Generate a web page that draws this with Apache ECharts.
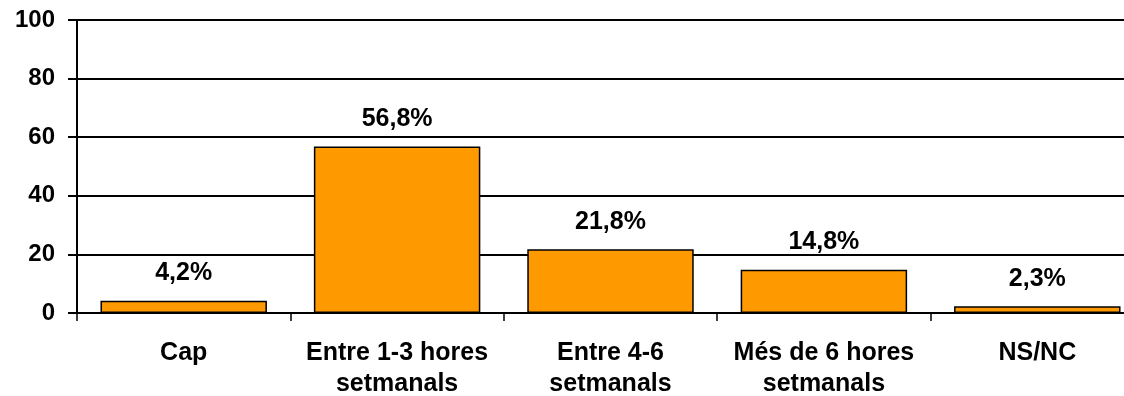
<!DOCTYPE html>
<html>
<head>
<meta charset="utf-8">
<script src="https://cdn.jsdelivr.net/npm/echarts@6/dist/echarts.min.js"></script>
<style>
html,body{margin:0;padding:0;background:#fff;overflow:hidden;width:1124px;height:396px;}
#chart{width:1144px;height:396px;}
</style>
</head>
<body>
<div id="chart"></div>
<script>
const categories = ['Cap', 'Entre 1-3 hores\nsetmanals', 'Entre 4-6\nsetmanals', 'Més de 6 hores\nsetmanals', 'NS/NC'];
const values = [4.2, 56.8, 21.8, 14.8, 2.3];
const yTicks = [0, 20, 40, 60, 80, 100];

const chart = echarts.init(document.getElementById('chart'), null, {renderer: 'canvas'});
const font = '"Liberation Sans", Arial, sans-serif';
chart.setOption({
  animation: false,
  backgroundColor: '#fff',
  grid: {left: 77, right: 0, top: 20, height: 293, containLabel: false, outerBoundsMode: 'none'},
  xAxis: {
    type: 'category',
    data: categories,
    axisLine: {show: true, lineStyle: {color: '#000', width: 2}},
    axisTick: {show: true, length: 8, lineStyle: {color: '#000', width: 1.5}},
    axisLabel: {color: '#000', fontFamily: font, fontWeight: 'bold', fontSize: 25, lineHeight: 31, margin: 25, interval: 0}
  },
  yAxis: {
    type: 'value',
    min: yTicks[0],
    max: yTicks[yTicks.length - 1],
    interval: 20,
    axisLine: {show: true, lineStyle: {color: '#000', width: 2}},
    axisTick: {show: true, length: 9, lineStyle: {color: '#000', width: 2}},
    splitLine: {show: true, lineStyle: {color: '#000', width: 2}},
    axisLabel: {color: '#000', fontFamily: font, fontWeight: 'bold', fontSize: 24, margin: 22}
  },
  series: [{
    type: 'bar',
    data: values,
    barWidth: '78%',
    itemStyle: {color: '#FF9900', borderColor: '#000', borderWidth: 1.5},
    label: {
      show: true,
      position: 'top',
      distance: 15,
      color: '#000',
      fontFamily: font,
      fontWeight: 'bold',
      fontSize: 25,
      formatter: p => p.value.toFixed(1).replace('.', ',') + '%'
    }
  }]
});
</script>
</body>
</html>
